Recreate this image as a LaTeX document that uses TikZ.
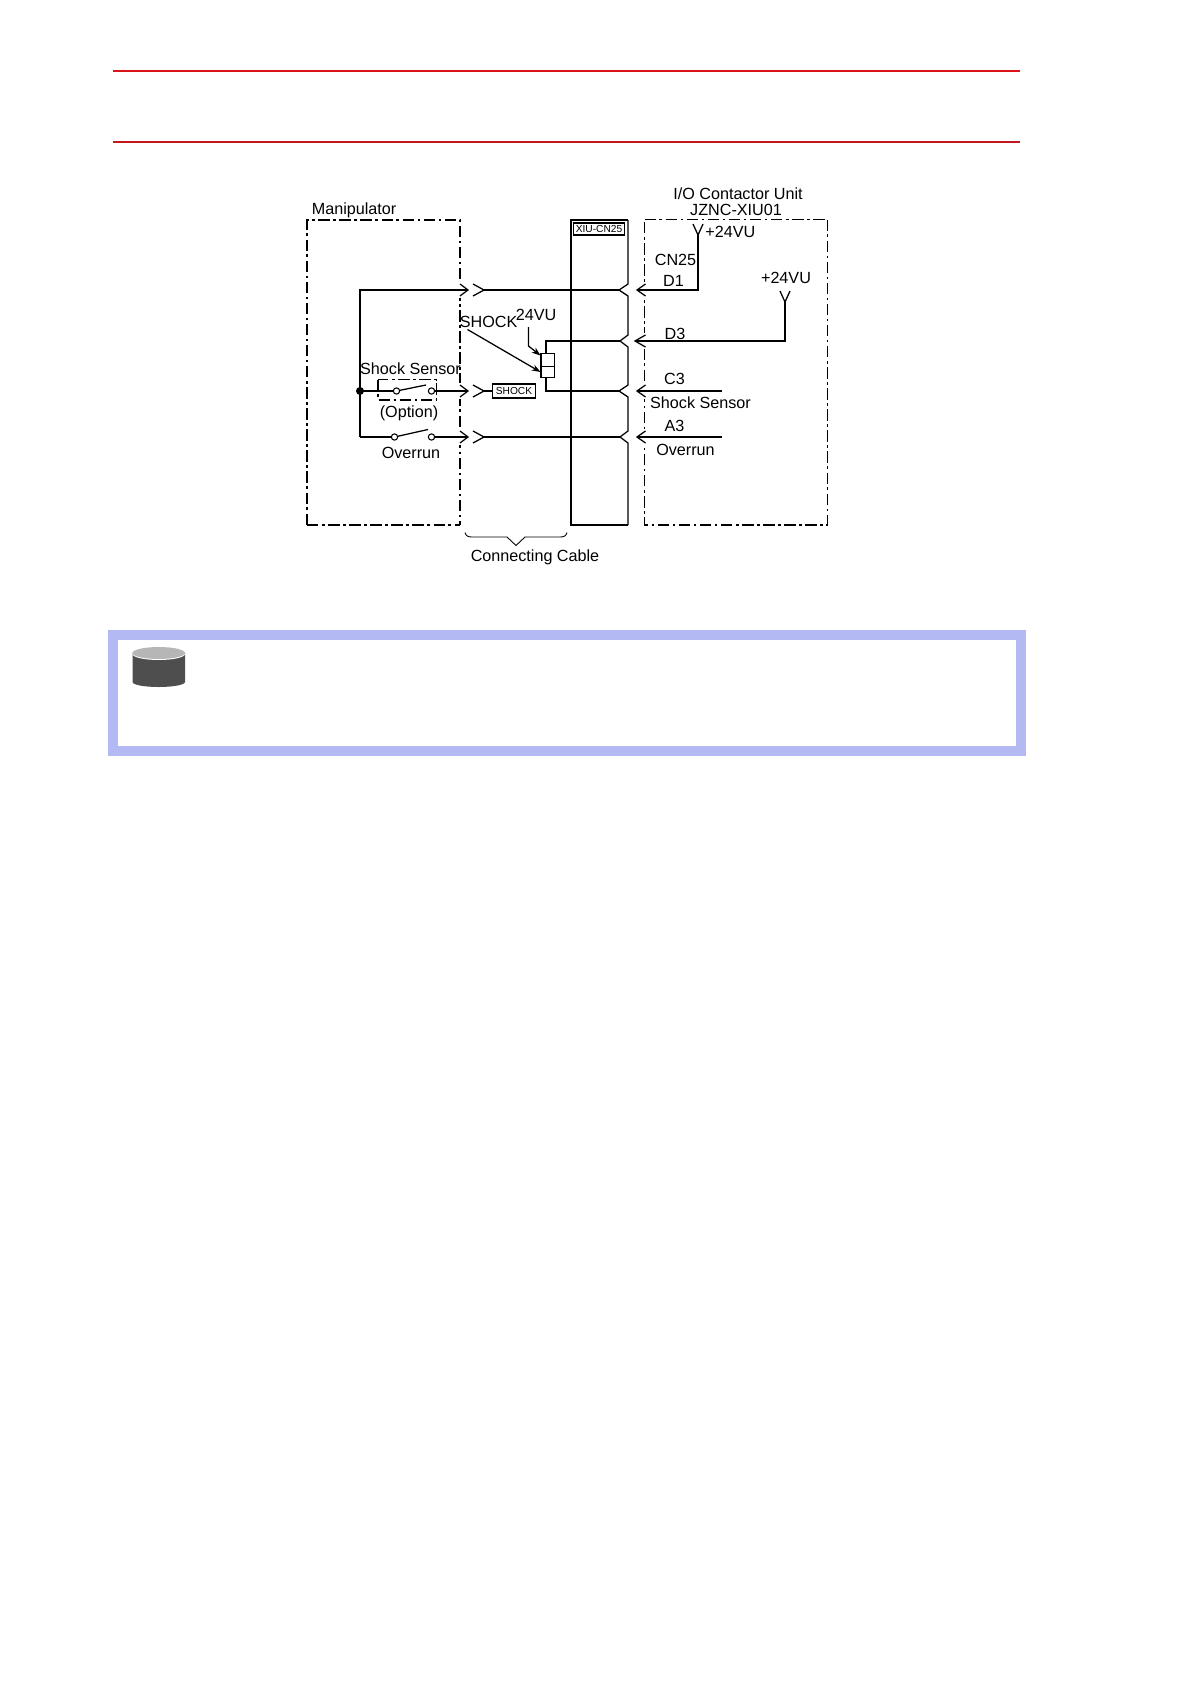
\documentclass[tikz,border=0pt]{standalone}
\usepackage{fontspec}
\setmainfont{Liberation Sans}
\usetikzlibrary{arrows.meta}
\definecolor{headred}{RGB}{220,20,25}
\definecolor{headdark}{RGB}{195,25,30}
\definecolor{noteblue}{RGB}{179,185,242}
\definecolor{drumtop}{RGB}{182,182,182}
\definecolor{drumside}{RGB}{78,78,78}
\begin{document}
\begin{tikzpicture}[x=0.02cm,y=0.02cm]
\tikzset{
  wire/.style={line width=0.72pt},
  heavywire/.style={line width=1.1pt},
  frame/.style={line width=1pt,dash pattern=on 6.5pt off 2pt on 1.5pt off 2pt},
  thinframe/.style={line width=0.6pt,dash pattern=on 6.5pt off 2pt on 1.5pt off 2pt},
  label/.style={inner sep=0pt,font=\fontsize{9.2}{11}\selectfont},
  tag/.style={draw,line width=1.1pt,inner sep=0pt,font=\fontsize{5.8}{7}\selectfont},
  contact/.style={circle,draw,line width=0.6pt,fill=white,inner sep=0pt,minimum size=3.6pt},
  pin/.style={-{Stealth[length=5pt,width=3.6pt]},line width=0.72pt}
}
\useasboundingbox (0,0) rectangle (1190,-1684);

\fill [white] (0,0) rectangle (1190,-1684);

\draw [headred,line width=1.1pt] (113,-70.7) -- (1020,-70.7);
\draw [headdark,line width=1.1pt] (113,-141.7) -- (1020,-141.7);

\coordinate (manipnw) at (307,-220);
\coordinate (manipne) at (460,-220);
\coordinate (manipse) at (460,-525);
\coordinate (manipsw) at (307,-525);
\coordinate (unitnw) at (644.5,-219.5);
\coordinate (unitne) at (827.5,-219.5);
\coordinate (unitse) at (827.5,-525);
\coordinate (unitsw) at (644.5,-525);
\coordinate (cnnw) at (571,-220);
\coordinate (cnsw) at (571,-525);
\coordinate (cnse) at (628,-525);
\coordinate (cnne) at (628,-220);

\draw [frame] (manipsw) -- (manipnw) -- (manipne) -- (manipse);
\draw [thinframe] (manipsw) -- (manipse);
\draw [frame] (unitnw) -- (unitne);
\draw [thinframe] (unitne) -- (unitse) -- (unitsw) -- (unitnw);

% gaps in the frames at the chevrons
\fill [white] (458,-282) rectangle (462,-298);
\fill [white] (458,-383) rectangle (462,-399);
\fill [white] (458,-429) rectangle (462,-445);
\fill [white] (642,-282) rectangle (647,-298);
\fill [white] (642,-333) rectangle (647,-349);
\fill [white] (642,-383) rectangle (647,-399);
\fill [white] (642,-429) rectangle (647,-445);

\draw [line width=0.9pt] (cnne) -- (cnnw) -- (cnsw) -- (cnse);
\draw [wire] (cnne) -- (628,-284) -- (619,-290) -- (628,-296) -- (628,-335) -- (620,-341) -- (628,-347) -- (628,-385) -- (619,-391) -- (628,-397) -- (628,-431) -- (620,-437) -- (628,-443) -- (cnse);

\node [tag,minimum width=29pt,minimum height=6.8pt] (cntag) at (599,-229) {XIU-CN25};

\coordinate (busa) at (360,-290);
\coordinate (busb) at (360,-391);
\coordinate (busc) at (360,-437);
\coordinate (plugaout) at (468,-290);
\coordinate (plugain) at (484,-290);
\coordinate (plugbout) at (468,-391);
\coordinate (plugbin) at (484,-391);
\coordinate (plugcout) at (468,-437);
\coordinate (plugcin) at (484,-437);
\coordinate (cna) at (619,-290);
\coordinate (cnb) at (620,-341);
\coordinate (cnc) at (619,-391);
\coordinate (cnd) at (620,-437);
\coordinate (unita) at (637,-290);
\coordinate (unitb) at (635,-341);
\coordinate (unitc) at (637,-391);
\coordinate (unitd) at (637,-437);

\draw [wire] (plugaout) -- (busa) -- (busc);
\fill (busb) circle (4);

\draw [wire] (460,-284) -- (plugaout) -- (460,-296);
\draw [wire] (473,-284) -- (plugain) -- (473,-296);
\draw [wire] (460,-385) -- (plugbout) -- (460,-397);
\draw [wire] (473,-385) -- (plugbin) -- (473,-397);
\draw [wire] (460,-431) -- (plugcout) -- (460,-443);
\draw [wire] (473,-431) -- (plugcin) -- (473,-443);

\draw [wire] (plugain) -- (cna);
\draw [wire] (plugcin) -- (cnd);

\node [contact] (shocka) at (396.5,-391) {};
\node [contact] (shockb) at (431.5,-391) {};
\node [contact] (overa) at (394.5,-437) {};
\node [contact] (overb) at (431.5,-437) {};
\coordinate (shockarm) at (426,-385);
\coordinate (overarm) at (428,-429.5);

\draw [wire] (busb) -- (shocka);
\draw [wire] (shockb) -- (plugbout);
\draw [wire] (shocka) -- (shockarm);
\draw [wire] (busc) -- (overa);
\draw [wire] (overb) -- (plugcout);
\draw [wire] (overa) -- (overarm);

\coordinate (optnw) at (378,-379.5);
\coordinate (optse) at (436.5,-400);
\draw [frame] (optnw) rectangle (optse);

\node [tag,minimum width=24.5pt,minimum height=8pt] (shocktag) at (514,-391) {SHOCK};
\draw [wire] (plugbin) -- (shocktag);

\coordinate (relaynw) at (541,-353.5);
\coordinate (relayse) at (554.5,-377.5);
\coordinate (relayw) at (541,-366.5);
\coordinate (relaye) at (554.5,-366.5);
\coordinate (relaytop) at (546,-353.5);
\coordinate (relaybot) at (546,-377.5);
\draw [wire,fill=white] (relaynw) rectangle (relayse);
\draw [line width=0.5pt] (relayw) -- (relaye);
\draw [wire] (relaytop) -- (546,-341) -- (cnb);
\draw [wire] (relaybot) -- (546,-391) -- (cnc);

\coordinate (shockfrom) at (467.5,-329.5);
\coordinate (shockto) at (540.5,-372);
\coordinate (vufrom) at (528.5,-327);
\coordinate (vubend) at (528.5,-346);
\coordinate (vuto) at (540.5,-355.5);
\draw [pin] (shockfrom) -- (shockto);
\draw [pin] (vufrom) -- (vubend) -- (vuto);

\coordinate (feeda) at (698,-235);
\coordinate (feedb) at (785,-302);
\draw [heavywire] (feeda) -- (698,-290) -- (unita);
\draw [heavywire] (feedb) -- (785,-341) -- (unitb);
\draw [heavywire] (721.5,-391) -- (unitc);
\draw [heavywire] (721.5,-437) -- (unitd);

\draw [wire] (693,-224) -- (feeda) -- (703,-224);
\draw [wire] (780,-291) -- (feedb) -- (790,-291);
\draw [wire] (645.5,-284) -- (unita) -- (645.5,-296);
\draw [wire] (645.5,-335) -- (unitb) -- (645.5,-347);
\draw [wire] (645.5,-385) -- (unitc) -- (645.5,-397);
\draw [wire] (645.5,-431) -- (unitd) -- (645.5,-443);

\coordinate (bracel) at (465,-532.5);
\coordinate (bracer) at (567,-532.5);
\coordinate (bracetip) at (516,-545.5);
\draw [line width=0.5pt] (bracel) .. controls (466,-536) and (468,-537) .. (472,-537) -- (507,-537) -- (bracetip) -- (525,-537) -- (560,-537) .. controls (564,-537) and (566,-536) .. (bracer);

\node [label,anchor=west] (manipname) at (311.5,-210) {Manipulator};
\node [label] (unitname) at (738,-194) {I/O Contactor Unit};
\node [label] (unitcode) at (736,-210) {JZNC-XIU01};
\node [label,anchor=west] (vua) at (705,-231.5) {+24VU};
\node [label] (cnname) at (675.5,-259.5) {CN25};
\node [label] (pina) at (673.5,-281) {D1};
\node [label] (vub) at (786,-278) {+24VU};
\node [label] (pinb) at (675,-333.5) {D3};
\node [label] (pinc) at (674.5,-379) {C3};
\node [label] (shockunit) at (700.5,-403) {Shock Sensor};
\node [label] (pind) at (674.5,-425.5) {A3};
\node [label] (overunit) at (685.5,-450) {Overrun};
\node [label,anchor=west] (shockcoil) at (459.5,-322) {SHOCK};
\node [label] (vucoil) at (536,-315) {24VU};
\node [label] (shocksensor) at (410.5,-368.5) {Shock Sensor};
\node [label] (option) at (409,-413) {(Option)};
\node [label] (overrun) at (411,-452.5) {Overrun};
\node [label] (cable) at (535,-557.5) {Connecting Cable};

\draw [noteblue,line width=5.67pt] (113,-635) rectangle (1021,-751);

\coordinate (drumw) at (132.5,-653);
\coordinate (drume) at (185,-653);
\fill [drumside] (drumw) -- (132.5,-682) arc (180:360:26.25 and 5) -- (drume) -- cycle;
\fill [white] (132.5,-654) arc (180:360:26.25 and 6) -- cycle;
\fill [drumtop] (158.75,-653) ellipse (26.25 and 6);
\end{tikzpicture}
\end{document}
